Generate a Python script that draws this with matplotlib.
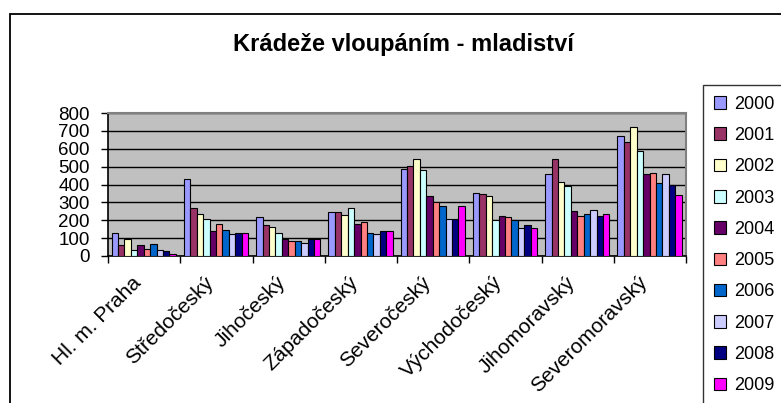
import matplotlib
matplotlib.use('Agg')
import matplotlib.pyplot as plt
import numpy as np
from matplotlib.patches import Rectangle

plt.rcParams['font.family'] = ['Liberation Sans', 'DejaVu Sans']

regions = ['Hl. m. Praha', 'Středočeský', 'Jihočeský', 'Západočeský',
           'Severočeský', 'Východočeský', 'Jihomoravský', 'Severomoravský']
years = ['2000', '2001', '2002', '2003', '2004', '2005', '2006', '2007', '2008', '2009']

# one list per year, values per region
v2000 = [126, 432, 216, 247, 487, 353, 460, 672]
v2001 = [61, 266, 175, 247, 504, 348, 545, 640]
v2002 = [95, 234, 162, 227, 540, 333, 413, 724]
v2003 = [33, 208, 128, 268, 480, 201, 393, 586]
v2004 = [63, 141, 95, 180, 333, 221, 253, 460]
v2005 = [37, 180, 82, 188, 300, 216, 221, 465]
v2006 = [69, 147, 82, 126, 281, 201, 234, 406]
v2007 = [35, 121, 74, 121, 208, 154, 260, 460]
v2008 = [28, 126, 95, 141, 208, 175, 221, 400]
v2009 = [11, 126, 95, 141, 281, 154, 234, 340]
values = [v2000, v2001, v2002, v2003, v2004, v2005, v2006, v2007, v2008, v2009]

colors = ['#9999FF', '#993366', '#FFFFCC', '#CCFFFF', '#660066',
          '#FF8080', '#0066CC', '#CCCCFF', '#000080', '#FF00FF']

W, H = 781, 403
fig = plt.figure(figsize=(W / 100, H / 100), dpi=100)
ax = fig.add_axes([108 / W, 1 - 256 / H, 578 / W, 143 / H])
ax.set_facecolor('#C0C0C0')

n = len(years)
bw = 0.89 / n
x = np.arange(len(regions))
for i, (yr, vals, c) in enumerate(zip(years, values, colors)):
    ax.bar(x + 0.05 + i * bw, vals, width=bw, align='edge', color=c,
           edgecolor='black', linewidth=0.8, label=yr, zorder=3)

ax.set_xlim(0, len(regions))
ax.set_ylim(0, 800)
ax.set_yticks(np.arange(0, 801, 100))
ax.yaxis.grid(True, color='black', linewidth=1.0, zorder=1)
ax.set_axisbelow(True)
ax.tick_params(axis='y', labelsize=13.5, length=5, width=1, pad=8, direction='out')

ax.set_xticks(x + 0.42)
ax.set_xticklabels(regions, rotation=45, ha='right', va='center',
                   rotation_mode='anchor', fontsize=15)
ax.tick_params(axis='x', which='major', length=0, pad=17)
ax.set_xticks(np.arange(0, len(regions) + 1), minor=True)
ax.tick_params(axis='x', which='minor', length=5, width=1, direction='out')

for s in ['left', 'bottom']:
    ax.spines[s].set_color('black')
    ax.spines[s].set_linewidth(1.2)
for s in ['top', 'right']:
    ax.spines[s].set_color('#808080')
    ax.spines[s].set_linewidth(1.5)

fig.text(0.517, 1 - 45 / H, 'Krádeže vloupáním - mladiství', ha='center', va='center',
         fontsize=17, fontweight='bold')

leg = fig.legend(loc='upper left', bbox_to_anchor=(703 / W, 1 - 85 / H),
                 fontsize=13, frameon=True, fancybox=False, edgecolor='black',
                 borderaxespad=0, handlelength=0.7, handleheight=0.7,
                 handletextpad=0.4, labelspacing=0.79, borderpad=0.6)
leg.get_frame().set_linewidth(1.0)

fig.add_artist(Rectangle((10 / W, -0.1), 1.2, 1.1 - 13.5 / H, transform=fig.transFigure,
                         fill=False, edgecolor='black', linewidth=1.3, clip_on=False))

fig.savefig('out.png', dpi=100, facecolor='white')
